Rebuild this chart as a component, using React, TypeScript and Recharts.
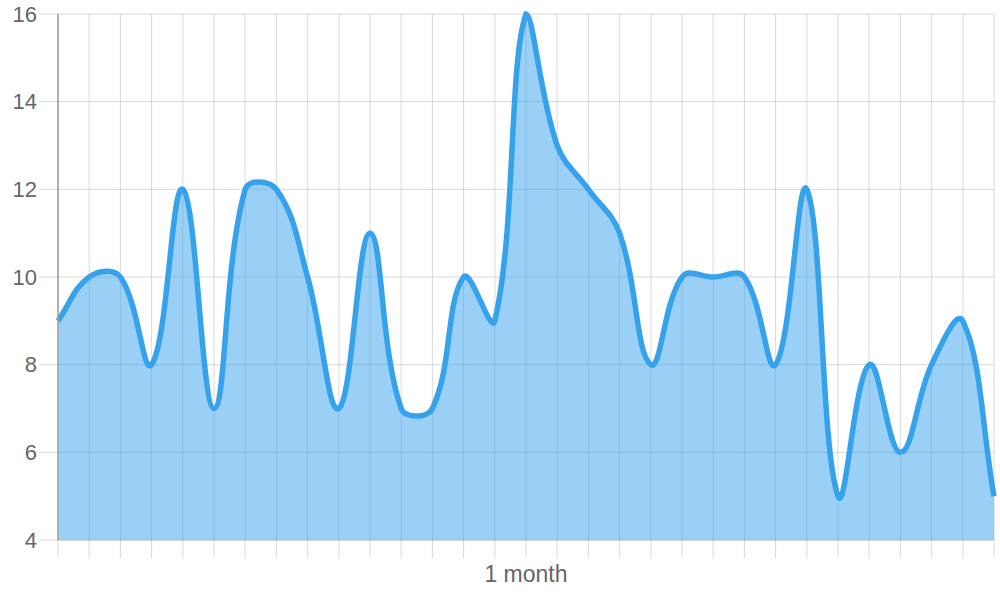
import React from 'react';
import { AreaChart, Area, XAxis, YAxis, CartesianGrid } from 'recharts';

// one reading per day of the month
const days = [0, 1, 2, 3, 4, 5, 6, 7, 8, 9, 10, 11, 12, 13, 14, 15, 16, 17, 18, 19, 20, 21, 22, 23, 24, 25, 26, 27, 28, 29, 30];
const values = [9, 10, 10, 8, 12, 7, 12, 12, 10, 7, 11, 7, 7, 10, 9, 16, 13, 12, 11, 8, 10, 10, 10, 8, 12, 5, 8, 6, 8, 9, 5];

const yTicks = [4, 6, 8, 10, 12, 14, 16];
const labelDay = 15;
const labelText = '1 month';

const data = days.map((d, i) => ({ day: d, value: values[i] }));

const W = 1000;
const H = 600;
const margin = { top: 14, right: 6, left: 0, bottom: 0 };
const xAxisHeight = 60;
const plotTop = margin.top;
const plotBottom = H - margin.bottom - xAxisHeight;

const font = '"Liberation Sans", Arial, sans-serif';
const gridColor = 'rgba(0,0,0,0.15)';

// Chart.js style bezier spline (tension 0.4, control points capped to the plot area)
function splineCurve(tension: number, top: number, bottom: number) {
  return (context: any) => {
    let line = NaN;
    let pts: number[][] = [];
    const cap = (y: number) => Math.max(top, Math.min(bottom, y));
    return {
      areaStart() { line = 0; },
      areaEnd() { line = NaN; },
      lineStart() { pts = []; },
      point(x: number, y: number) { pts.push([+x, +y]); },
      lineEnd() {
        const n = pts.length;
        if (n) {
          const cps = pts.map((p, i) => {
            const prev = pts[i - 1] || p;
            const next = pts[i + 1] || p;
            const d01 = Math.hypot(p[0] - prev[0], p[1] - prev[1]);
            const d12 = Math.hypot(next[0] - p[0], next[1] - p[1]);
            let s01 = d01 / (d01 + d12);
            let s12 = d12 / (d01 + d12);
            if (isNaN(s01)) s01 = 0;
            if (isNaN(s12)) s12 = 0;
            const fa = tension * s01;
            const fb = tension * s12;
            const dx = next[0] - prev[0];
            const dy = next[1] - prev[1];
            return {
              px: p[0] - fa * dx, py: cap(p[1] - fa * dy),
              nx: p[0] + fb * dx, ny: cap(p[1] + fb * dy),
            };
          });
          if (line) context.lineTo(pts[0][0], pts[0][1]);
          else context.moveTo(pts[0][0], pts[0][1]);
          for (let i = 1; i < n; i++) {
            context.bezierCurveTo(cps[i - 1].nx, cps[i - 1].ny, cps[i].px, cps[i].py, pts[i][0], pts[i][1]);
          }
        }
        if (line || (line !== 0 && n === 1)) context.closePath();
        line = 1 - line;
      },
    };
  };
}

const curve = splineCurve(0.4, plotTop, plotBottom);

export default function App() {
  return (
    <div style={{ position: 'absolute', left: 0, top: 0, width: W, height: H, background: '#fff' }}>
      <AreaChart width={W} height={H} data={data} margin={margin}>
        <XAxis
          type="number"
          dataKey="day"
          domain={[0, 30]}
          ticks={days}
          interval={0}
          height={xAxisHeight}
          tickSize={18}
          tickMargin={8}
          tickLine={{ stroke: gridColor }}
          axisLine={{ stroke: '#c4c4c4' }}
          tickFormatter={(d: number) => (d === labelDay ? labelText : '')}
          tick={{ fill: '#666', fontSize: 23, fontFamily: font }}
        />
        <YAxis
          type="number"
          domain={[4, 16]}
          ticks={yTicks}
          interval={0}
          width={58}
          tickSize={19}
          tickMargin={2}
          tickLine={{ stroke: gridColor }}
          axisLine={{ stroke: '#a0a0a0', strokeWidth: 1.5 }}
          tick={{ fill: '#666', fontSize: 22, fontFamily: font }}
        />
        <Area
          type={curve as any}
          dataKey="value"
          stroke="#36A2EB"
          strokeWidth={5.5}
          fill="#36A2EB"
          fillOpacity={0.5}
          isAnimationActive={false}
          dot={false}
          activeDot={false}
        />
        <CartesianGrid stroke={gridColor} strokeWidth={1} />
      </AreaChart>
    </div>
  );
}
